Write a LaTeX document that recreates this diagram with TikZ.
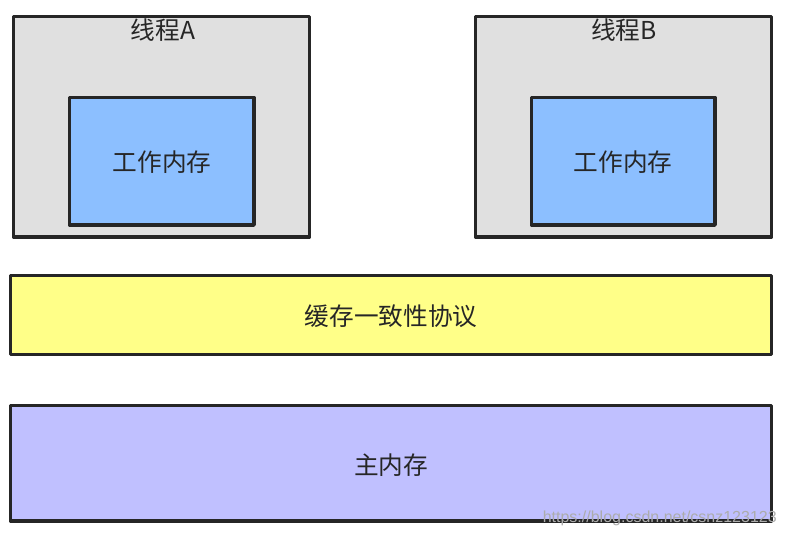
\documentclass[tikz,border=0pt]{standalone}
\usepackage{fontspec}
\newfontfamily\cjk{Noto Sans CJK SC}
\setmainfont{Liberation Sans}
\definecolor{threadgray}{HTML}{E0E0E0}
\definecolor{memblue}{HTML}{8CBFFF}
\definecolor{cacheyellow}{HTML}{FFFF88}
\definecolor{mainpurple}{HTML}{C0C0FF}
\definecolor{edgedark}{HTML}{262626}
\tikzset{
  box/.style={draw=edgedark,line width=2.5pt,line join=round},
  label/.style={font=\cjk\fontsize{18.5}{22}\selectfont,text=black!85,inner sep=0pt},
}
\begin{document}
\begin{tikzpicture}[x=0.75pt,y=-0.75pt]
  \useasboundingbox (0,0) rectangle (786,537);
  % threads
  \draw[box,fill=threadgray] (13.5,16.5) rectangle (309.5,237);
  \draw[box,fill=memblue] (69.5,97.5) rectangle (254,225);
  \draw[box,fill=threadgray] (475.5,16.5) rectangle (771.5,237);
  \draw[box,fill=memblue] (531.5,97.5) rectangle (715,225);
  \node[label] (threadA) at (163,30) {线程A};
  \node[label] (workA) at (162,162) {工作内存};
  \node[label] (threadB) at (624,30) {线程B};
  \node[label] (workB) at (623,162) {工作内存};
  % cache and main memory
  \draw[box,fill=cacheyellow] (10.5,275.5) rectangle (771.5,354.5);
  \node[label] (cache) at (391,316) {缓存一致性协议};
  \draw[box,fill=mainpurple] (10.5,405.5) rectangle (771.5,521);
  \node[label] (mainmem) at (391,465) {主内存};
  \node[font=\fontsize{12}{14}\selectfont,text=gray!65,anchor=east,inner sep=0pt] (mark) at (777,518) {https://blog.csdn.net/csnz123123};
\end{tikzpicture}
\end{document}
